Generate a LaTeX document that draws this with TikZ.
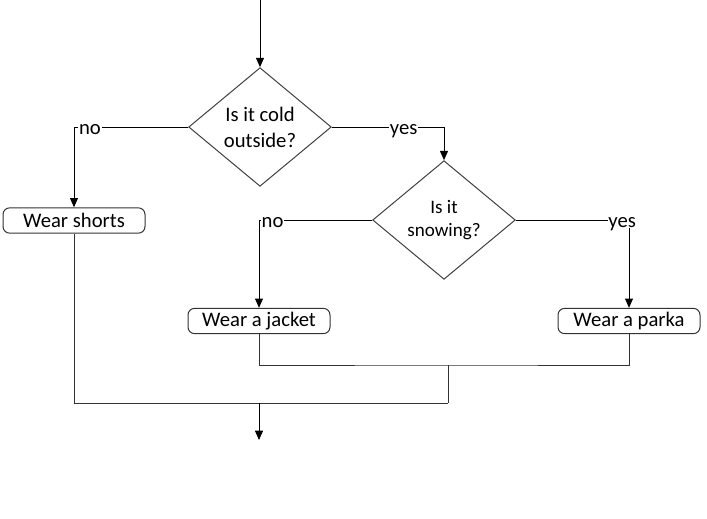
\documentclass[tikz,border=0pt]{standalone}
\usepackage{fontspec}
\setmainfont{Carlito}
\usetikzlibrary{shapes.geometric,arrows.meta}
\tikzset{
  ask/.style={diamond, draw=black!75, inner sep=0pt, minimum width=107pt, minimum height=89pt, align=center},
  act/.style={rectangle, rounded corners=5pt, draw=black!80, minimum width=106.5pt, minimum height=19pt, inner sep=0pt},
  arr/.style={-{Triangle[width=6pt,length=7pt]}},
  tag/.style={fill=white, inner sep=.5pt, text height=1ex, text depth=0pt, yshift=-3pt},
}
\begin{document}
\begin{tikzpicture}[x=0.75pt, y=-0.75pt, font=\fontsize{15.5}{19.5}\selectfont, line width=.75pt]
      \useasboundingbox (0,0) rectangle (707,518);
      \coordinate (start) at (260,0);
      \node[ask] (cold) at (260,127) {Is it cold\\outside?};
      \node[ask, font=\fontsize{14.3}{17}\selectfont] (snow) at (444,220) {Is it\\snowing?};
      \node[act] (shorts) at (74,220.5) {Wear shorts};
      \node[act] (jacket) at (259,321) {Wear a jacket};
      \node[act] (parka) at (629,321) {Wear a parka};
      \coordinate (merge) at (448,365);
      \coordinate (join) at (448,403);
      \coordinate (jn) at (259,403);
      \coordinate (stop) at (259,440);
      \draw[arr] (start) -- (cold);
      \draw[arr] (cold.west) -| node[tag, pos=.43] {no} (shorts.north);
      \draw[arr] (cold.east) -| node[tag, pos=.32] {yes} (snow.north);
      \draw[arr] (snow.west) -| node[tag, pos=.44] {no} (jacket.north);
      \draw[arr] (snow.east) -| node[tag, pos=.47] {yes} (parka.north);
      \draw[black!80] (jacket.south) |- (merge) -| (parka.south);
      \draw[black!80] (merge) -- (join);
      \draw[black!80] (shorts.south) |- (join);
      \draw[arr] (jn) -- (stop);
   \end{tikzpicture}
\end{document}
